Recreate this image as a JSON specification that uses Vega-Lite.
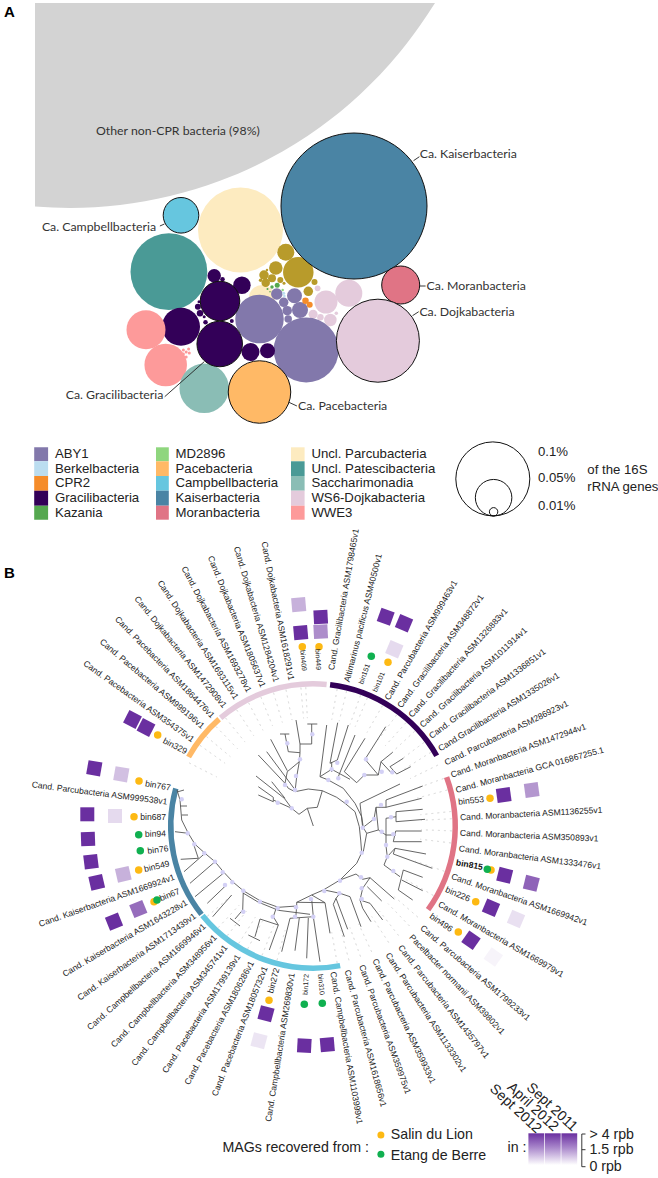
{"$schema":"https://vega.github.io/schema/vega-lite/v6.json","width":658,"height":1178,"padding":0,"autosize":{"type":"none"},"background":"white",
"config":{"view":{"stroke":null},"legend":{"disable":true},"axis":{"disable":true},"style":{"text":{"font":"Liberation Sans"}}},
"datasets":{
"other":[{"x":35,"y":206.6,"y2":3},{"x":70,"y":208,"y2":3},{"x":120,"y":205.1,"y2":3},{"x":170,"y":196.1,"y2":3},{"x":220,"y":180.8,"y2":3},{"x":270,"y":158.3,"y2":3},{"x":320,"y":127.2,"y2":3},{"x":360,"y":94.4,"y2":3},{"x":400,"y":52,"y2":3},{"x":420,"y":25.6,"y2":3},{"x":435,"y":3,"y2":3}],
"circles":[
{"g":"Uncl. Parcubacteria","x":240.5,"y":230,"d":85},{"g":"Uncl. Parcubacteria","x":262,"y":298,"d":26},
{"g":"Uncl. Patescibacteria","x":168.9,"y":271.7,"d":76.8},{"g":"WS6-Dojkabacteria","x":348.8,"y":293.3,"d":27},{"g":"WS6-Dojkabacteria","x":326,"y":302,"d":23},{"g":"WS6-Dojkabacteria","x":330.4,"y":320,"d":12.5},{"g":"WS6-Dojkabacteria","x":313.1,"y":314.3,"d":9},{"g":"WS6-Dojkabacteria","x":320.4,"y":317.3,"d":6.5},{"g":"WS6-Dojkabacteria","x":317.6,"y":288.3,"d":5.7},{"g":"WS6-Dojkabacteria","x":336.3,"y":313.3,"d":3.5},
{"g":"ABY1","x":306.2,"y":350,"d":65},{"g":"ABY1","x":259.5,"y":319,"d":48.5},{"g":"ABY1","x":300,"y":310,"d":16},{"g":"ABY1","x":294.5,"y":295.7,"d":15},{"g":"ABY1","x":276.8,"y":294,"d":11.5},{"g":"ABY1","x":283.7,"y":302.3,"d":9.5},{"g":"ABY1","x":287.2,"y":310.7,"d":9.5},{"g":"ABY1","x":288.2,"y":319,"d":7.5},
{"g":"Gold","x":298.3,"y":272.3,"d":30.5},{"g":"Gold","x":285.8,"y":252.3,"d":17},{"g":"Gold","x":275.8,"y":268,"d":13.5},{"g":"Gold","x":264,"y":275,"d":9.5},{"g":"Gold","x":272,"y":278.3,"d":8},{"g":"Gold","x":265.7,"y":282.7,"d":8.5},{"g":"Gold","x":280.3,"y":280,"d":6},{"g":"Gold","x":308.3,"y":291.3,"d":9.5},{"g":"Gold","x":314.5,"y":282,"d":6},{"g":"Gold","x":260.6,"y":280.3,"d":3.5},{"g":"Gold","x":267,"y":270,"d":2.5},{"g":"Gold","x":284,"y":283.3,"d":3},
{"g":"Kazania","x":277.2,"y":285.3,"d":5},{"g":"Kazania","x":272,"y":287,"d":3.5},{"g":"Kazania","x":267.5,"y":289,"d":2},{"g":"Kazania","x":270,"y":291.7,"d":1.5},{"g":"MD2896","x":282.7,"y":290,"d":2.5},{"g":"Berkelbacteria","x":283.7,"y":293.3,"d":3},{"g":"Berkelbacteria","x":284.4,"y":296,"d":2.5},
{"g":"CPR2","x":305.5,"y":300.7,"d":6.5},{"g":"CPR2","x":309.7,"y":304.7,"d":6},
{"g":"Gracilibacteria","x":181,"y":326.7,"d":38},{"g":"Gracilibacteria","x":214.2,"y":275.7,"d":13.5},{"g":"Gracilibacteria","x":241.9,"y":285.3,"d":17.5},{"g":"Gracilibacteria","x":250.5,"y":352,"d":18},{"g":"Gracilibacteria","x":267.5,"y":350.7,"d":15},{"g":"Gracilibacteria","x":222.5,"y":279.3,"d":4.5},{"g":"Gracilibacteria","x":197.9,"y":306.7,"d":6},{"g":"Gracilibacteria","x":200,"y":313.3,"d":6.5},{"g":"Gracilibacteria","x":205.5,"y":322.3,"d":4.5},{"g":"Gracilibacteria","x":231.8,"y":321,"d":4},{"g":"Gracilibacteria","x":199,"y":301.7,"d":3},{"g":"Gracilibacteria","x":204.2,"y":316.7,"d":3},
{"g":"WWE3","x":146,"y":329.7,"d":39},{"g":"WWE3","x":165.7,"y":365,"d":42.5},{"g":"WWE3","x":183.4,"y":350,"d":3},{"g":"WWE3","x":188.6,"y":349,"d":3},{"g":"WWE3","x":183.4,"y":354,"d":3},{"g":"WWE3","x":189.3,"y":353,"d":3},{"g":"WWE3","x":186.2,"y":357,"d":3},{"g":"WWE3","x":186.2,"y":352,"d":3},
{"g":"Saccharimonadia","x":204.2,"y":388.3,"d":49.5},
{"g":"Kaiserbacteria","x":354,"y":206,"d":146,"named":true},{"g":"Campbellbacteria","x":181,"y":215.3,"d":35.6,"named":true},{"g":"Moranbacteria","x":400.7,"y":285,"d":38,"named":true},{"g":"WS6-Dojkabacteria","x":377.9,"y":340.7,"d":83,"named":true},{"g":"Gracilibacteria","x":220,"y":301,"d":39.5,"named":true},{"g":"Gracilibacteria","x":219.7,"y":344,"d":45.5,"named":true},{"g":"Pacebacteria","x":259.5,"y":392,"d":62.5,"named":true}],
"connectors":[{"x":413.5,"y":160.7,"x2":419.4,"y2":156.7},{"x":159.9,"y":226,"x2":164.4,"y2":224},{"x":419.7,"y":286,"x2":425.6,"y2":286},{"x":412.5,"y":315.7,"x2":418.7,"y2":311.7},{"x":164.7,"y":396.7,"x2":204.2,"y2":361.7},{"x":288.9,"y":402.3,"x2":296.9,"y2":406},
{"x":581.8,"y":1134,"x2":581.8,"y2":1166.7},{"x":581.8,"y":1134,"x2":585.5,"y2":1134},{"x":581.8,"y":1149.7,"x2":585.5,"y2":1149.7},{"x":581.8,"y":1166.7,"x2":585.5,"y2":1166.7}],
"legend":[{"g":"ABY1","x":34.2,"x2":48.1,"y":447.3,"y2":461.3},{"g":"Berkelbacteria","x":34.2,"x2":48.1,"y":461.3,"y2":476},{"g":"CPR2","x":34.2,"x2":48.1,"y":476,"y2":490.7},{"g":"Gracilibacteria","x":34.2,"x2":48.1,"y":490.7,"y2":505.7},{"g":"Kazania","x":34.2,"x2":48.1,"y":505.7,"y2":519.7},
{"g":"MD2896","x":156,"x2":168.8,"y":447.3,"y2":461.3},{"g":"Pacebacteria","x":156,"x2":168.8,"y":461.3,"y2":476},{"g":"Campbellbacteria","x":156,"x2":168.8,"y":476,"y2":490.7},{"g":"Kaiserbacteria","x":156,"x2":168.8,"y":490.7,"y2":505.7},{"g":"Moranbacteria","x":156,"x2":168.8,"y":505.7,"y2":519.7},
{"g":"Uncl. Parcubacteria","x":291,"x2":304.6,"y":447.3,"y2":461.3},{"g":"Uncl. Patescibacteria","x":291,"x2":304.6,"y":461.3,"y2":476},{"g":"Saccharimonadia","x":291,"x2":304.6,"y":476,"y2":490.7},{"g":"WS6-Dojkabacteria","x":291,"x2":304.6,"y":490.7,"y2":505.7},{"g":"WWE3","x":291,"x2":304.6,"y":505.7,"y2":519.7}],
"sizeLegend":[{"x":492.8,"y":478.9,"d":74},{"x":493.6,"y":497.7,"d":36.5},{"x":493.6,"y":511.8,"d":8.4}],
"rings":[{"g":"Gracilibacteria","x":313,"y":826,"t":6.9,"t2":60.4},{"g":"Moranbacteria","x":313,"y":826,"t":69.9,"t2":126},{"g":"Campbellbacteria","x":313,"y":826,"t":169,"t2":231},{"g":"Kaiserbacteria","x":313,"y":826,"t":231.6,"t2":285.3},{"g":"Pacebacteria","x":313,"y":826,"t":299,"t2":318.7},{"g":"WS6-Dojkabacteria","x":313,"y":826,"t":319.5,"t2":365.5}],
"leaves":[{"x":313,"y":826,"t":10,"t2":10.01},{"x":313,"y":826,"t":14,"t2":14.01},{"x":313,"y":826,"t":20,"t2":20.01},{"x":313,"y":826,"t":23,"t2":23.01},{"x":313,"y":826,"t":30,"t2":30.01},{"x":313,"y":826,"t":37,"t2":37.01},{"x":313,"y":826,"t":42,"t2":42.01},{"x":313,"y":826,"t":47,"t2":47.01},{"x":313,"y":826,"t":53,"t2":53.01},{"x":313,"y":826,"t":58,"t2":58.01},{"x":313,"y":826,"t":64,"t2":64.01},{"x":313,"y":826,"t":70,"t2":70.01},{"x":313,"y":826,"t":75,"t2":75.01},{"x":313,"y":826,"t":84,"t2":84.01},{"x":313,"y":826,"t":87,"t2":87.01},{"x":313,"y":826,"t":92,"t2":92.01},{"x":313,"y":826,"t":97,"t2":97.01},{"x":313,"y":826,"t":109,"t2":109.01},{"x":313,"y":826,"t":120,"t2":120.01},{"x":313,"y":826,"t":131,"t2":131.01},{"x":313,"y":826,"t":136,"t2":136.01},{"x":313,"y":826,"t":142,"t2":142.01},{"x":313,"y":826,"t":147,"t2":147.01},{"x":313,"y":826,"t":155,"t2":155.01},{"x":313,"y":826,"t":160,"t2":160.01},{"x":313,"y":826,"t":165,"t2":165.01},{"x":313,"y":826,"t":170,"t2":170.01},{"x":313,"y":826,"t":195,"t2":195.01},{"x":313,"y":826,"t":201.5,"t2":201.51},{"x":313,"y":826,"t":208,"t2":208.01},{"x":313,"y":826,"t":212.3,"t2":212.31},{"x":313,"y":826,"t":218,"t2":218.01},{"x":313,"y":826,"t":223,"t2":223.01},{"x":313,"y":826,"t":229.5,"t2":229.51},{"x":313,"y":826,"t":297,"t2":297.01},{"x":313,"y":826,"t":305.5,"t2":305.51},{"x":313,"y":826,"t":310,"t2":310.01},{"x":313,"y":826,"t":315.7,"t2":315.71},{"x":313,"y":826,"t":321,"t2":321.01},{"x":313,"y":826,"t":326.7,"t2":326.71},{"x":313,"y":826,"t":332.4,"t2":332.41},{"x":313,"y":826,"t":338,"t2":338.01},{"x":313,"y":826,"t":343.5,"t2":343.51},{"x":313,"y":826,"t":348.8,"t2":348.81},{"x":313,"y":826,"t":355,"t2":355.01},{"x":313,"y":826,"t":357,"t2":357.01}],
"tree":[
{"x":256,"y":776,"x2":284.3,"y2":798.3},{"x":258.3,"y":786.7,"x2":273.3,"y2":797.3},{"x":258.3,"y":795,"x2":273.3,"y2":801.7},{"x":273.3,"y":797.3,"x2":273.3,"y2":801.7},{"x":273.3,"y":800,"x2":291.7,"y2":808.3},{"x":271.7,"y":781.7,"x2":285,"y2":798.3},{"x":284.3,"y":798.3,"x2":291.7,"y2":808.3},{"x":258.3,"y":755,"x2":285,"y2":783.3},{"x":266.7,"y":751.7,"x2":294,"y2":788.3},{"x":270.7,"y":739.3,"x2":287.3,"y2":770.7},{"x":280,"y":734,"x2":289.3,"y2":734},{"x":285,"y":734,"x2":288.3,"y2":751.7},{"x":288.3,"y":751.7,"x2":300,"y2":752.7},{"x":296,"y":720,"x2":300,"y2":744},{"x":300,"y":744,"x2":311.7,"y2":744},{"x":307.3,"y":724,"x2":317.3,"y2":724},{"x":311.7,"y":724,"x2":311.7,"y2":744},{"x":300,"y":744,"x2":300,"y2":752.7},{"x":300,"y":752.7,"x2":299.3,"y2":761.7},{"x":287.3,"y":771.7,"x2":299.3,"y2":761.7},{"x":285,"y":783.3,"x2":287.3,"y2":771.7},{"x":299.3,"y":761.7,"x2":296.7,"y2":776.7},{"x":296.7,"y":776.7,"x2":295,"y2":791.7},{"x":295,"y":791.7,"x2":288.3,"y2":788.3},{"x":285,"y":783.3,"x2":288.3,"y2":788.3},
{"x":326.7,"y":725,"x2":320,"y2":776.7},{"x":337.7,"y":722.7,"x2":330,"y2":763.3},{"x":348.3,"y":725,"x2":337.3,"y2":760},{"x":355,"y":735,"x2":338.3,"y2":776.7},{"x":365,"y":738.3,"x2":344.3,"y2":771.7},{"x":330,"y":763.3,"x2":337.3,"y2":760},{"x":331.7,"y":762,"x2":331.7,"y2":772},{"x":331.7,"y":769.3,"x2":350,"y2":779.3},{"x":328.3,"y":780,"x2":320,"y2":776.7},{"x":320,"y":776.7,"x2":331.7,"y2":769.3},{"x":344.3,"y":771.7,"x2":356.7,"y2":782.7},{"x":356.7,"y":782.7,"x2":364.3,"y2":775},{"x":385.7,"y":726.7,"x2":365,"y2":759.3},{"x":365,"y":759.3,"x2":378.3,"y2":775},{"x":392.7,"y":752.3,"x2":381,"y2":761.7},{"x":381,"y":761.7,"x2":391.7,"y2":773.3},{"x":403.3,"y":758.3,"x2":390,"y2":766.7},{"x":410.7,"y":766.7,"x2":396.7,"y2":774},{"x":390,"y":766.7,"x2":396.7,"y2":774},{"x":364.3,"y":775,"x2":378.3,"y2":775},{"x":378.3,"y":775,"x2":381,"y2":761.7},
{"x":295,"y":791.7,"x2":308.3,"y2":789},{"x":308.3,"y":789,"x2":322.3,"y2":790.7},{"x":322.3,"y":790.7,"x2":336.7,"y2":797.3},{"x":336.7,"y":797.3,"x2":345,"y2":803.3},
{"x":328.3,"y":780,"x2":343.3,"y2":788.3},{"x":343.3,"y":788.3,"x2":355,"y2":803.3},{"x":355,"y":803.3,"x2":361.7,"y2":816.7},{"x":361.7,"y":816.7,"x2":363.3,"y2":827.7},
{"x":345,"y":803.3,"x2":355,"y2":811.7},{"x":355,"y":811.7,"x2":359.3,"y2":826.7},{"x":359.3,"y":826.7,"x2":360.7,"y2":840},{"x":360.7,"y":840,"x2":361.7,"y2":852.7},
{"x":363.3,"y":827.7,"x2":366.7,"y2":833.3},{"x":366.7,"y":833.3,"x2":363.3,"y2":851.7},{"x":366.7,"y":833.3,"x2":378.3,"y2":830},
{"x":361.7,"y":852.7,"x2":356.7,"y2":863.3},{"x":356.7,"y":863.3,"x2":340,"y2":880},{"x":340,"y":880,"x2":323.3,"y2":890},{"x":323.3,"y":890,"x2":311.7,"y2":895},{"x":311.7,"y":895,"x2":296.7,"y2":902.3},
{"x":313.3,"y":826,"x2":307.3,"y2":808.3},{"x":299,"y":814.3,"x2":307.3,"y2":808.3},{"x":307.3,"y":808.3,"x2":317.3,"y2":807.3},{"x":317.3,"y":807.3,"x2":322.3,"y2":790.7},{"x":299,"y":814.3,"x2":291.7,"y2":808.3},
{"x":360,"y":803.3,"x2":400,"y2":784},{"x":362.7,"y":827.7,"x2":360,"y2":803.3},{"x":362.7,"y":827.7,"x2":374,"y2":819},{"x":374,"y":819,"x2":376,"y2":807.3},{"x":376,"y":807.3,"x2":386,"y2":807.3},{"x":386,"y":800,"x2":422.7,"y2":786},{"x":386,"y":807.3,"x2":421.7,"y2":798.3},{"x":386,"y":800,"x2":386,"y2":807.3},{"x":376,"y":807.3,"x2":378.3,"y2":830},{"x":378.3,"y":830,"x2":386,"y2":835},{"x":386,"y":818.3,"x2":396,"y2":816.7},{"x":396,"y":811.7,"x2":422.7,"y2":809.3},{"x":396,"y":821.7,"x2":425,"y2":819.3},{"x":396,"y":811.7,"x2":396,"y2":821.7},{"x":386,"y":818.3,"x2":386,"y2":835},{"x":386,"y":835,"x2":395.7,"y2":835},{"x":395.7,"y":831,"x2":421.7,"y2":831},{"x":393.3,"y":841.7,"x2":421.7,"y2":841.7},{"x":395.7,"y":831,"x2":393.3,"y2":841.7},{"x":386,"y":835,"x2":386,"y2":846},{"x":386,"y":846,"x2":387.3,"y2":856.7},{"x":387.3,"y":856.7,"x2":395,"y2":848.3},{"x":395,"y":848.3,"x2":426,"y2":854},{"x":393.3,"y":854,"x2":432.3,"y2":868.3},{"x":395,"y":848.3,"x2":393.3,"y2":854},{"x":387.3,"y":856.7,"x2":384,"y2":865},{"x":384,"y":865,"x2":400,"y2":876.7},{"x":403.3,"y":870,"x2":422.7,"y2":877.3},{"x":398.3,"y":890,"x2":412.7,"y2":900},{"x":401.7,"y":880,"x2":422.7,"y2":890.7},{"x":403.3,"y":870,"x2":398.3,"y2":890},
{"x":340,"y":880,"x2":356,"y2":874},{"x":356,"y":874,"x2":362.7,"y2":879.3},{"x":362.7,"y":879.3,"x2":370,"y2":877.7},{"x":370,"y":877.7,"x2":394.3,"y2":899},{"x":370,"y":877.7,"x2":362.7,"y2":888.3},{"x":367.3,"y":886.7,"x2":381.7,"y2":901},{"x":362.7,"y":888.3,"x2":360,"y2":900},{"x":370,"y":903.3,"x2":382.7,"y2":920},{"x":362.7,"y":908.3,"x2":371,"y2":921.7},{"x":360,"y":900,"x2":370,"y2":903.3},{"x":360,"y":900,"x2":362.7,"y2":908.3},
{"x":350,"y":896.7,"x2":361,"y2":926.7},{"x":336,"y":898.3,"x2":347.7,"y2":929.3},{"x":333.3,"y":904.3,"x2":344.3,"y2":936.7},{"x":336,"y":898.3,"x2":333.3,"y2":904.3},{"x":324.3,"y":890,"x2":340,"y2":893.3},{"x":340,"y":893.3,"x2":350,"y2":896.7},{"x":340,"y":893.3,"x2":336,"y2":898.3},{"x":311.7,"y":895,"x2":325,"y2":902.7},{"x":325,"y":902.7,"x2":330,"y2":933.3},{"x":296.7,"y":902.3,"x2":325,"y2":902.7},{"x":296.7,"y":902.3,"x2":296.7,"y2":906},
{"x":296.7,"y":906,"x2":295.7,"y2":918},{"x":290,"y":918.3,"x2":313.3,"y2":916.7},{"x":313.3,"y":916.7,"x2":320,"y2":961.7},{"x":308.3,"y":918,"x2":306.7,"y2":958.3},{"x":290,"y":918.3,"x2":281.7,"y2":951.7},{"x":299.3,"y":918,"x2":295,"y2":950.7},{"x":313.3,"y":916.7,"x2":311.7,"y2":899.3},
{"x":296.7,"y":906,"x2":278.3,"y2":907.3},{"x":278.3,"y":907.3,"x2":260,"y2":900.7},{"x":260,"y":900.7,"x2":243.3,"y2":890.7},{"x":243.3,"y":890.7,"x2":233.3,"y2":882.3},{"x":233.3,"y":882.3,"x2":223.3,"y2":871.7},{"x":223.3,"y":871.7,"x2":215,"y2":861.7},{"x":215,"y":861.7,"x2":205,"y2":853.3},{"x":205,"y":853.3,"x2":195,"y2":844.3},{"x":195,"y":844.3,"x2":188.3,"y2":833.3},{"x":188.3,"y":833.3,"x2":181.7,"y2":820},{"x":181.7,"y":820,"x2":180,"y2":800},{"x":180,"y":800,"x2":177,"y2":790},{"x":177,"y":792,"x2":184,"y2":790},{"x":180,"y":806,"x2":187,"y2":806},{"x":181.7,"y":815,"x2":188,"y2":815},
{"x":310,"y":914.3,"x2":278.3,"y2":910.3},{"x":278.3,"y":910.3,"x2":258,"y2":902},{"x":258,"y":902,"x2":243,"y2":893},
{"x":273.3,"y":916.7,"x2":278.3,"y2":925},{"x":278.3,"y":925,"x2":269.3,"y2":950},{"x":260,"y":919,"x2":278.3,"y2":925},{"x":260,"y":919,"x2":255,"y2":936.7},{"x":248.3,"y":935,"x2":260,"y2":940.7},{"x":273.3,"y":916.7,"x2":276.7,"y2":906.7},{"x":242.7,"y":910,"x2":235,"y2":919},{"x":230,"y":918.3,"x2":240,"y2":926},{"x":243.3,"y":890.7,"x2":242.7,"y2":910},{"x":231.7,"y":895,"x2":212.7,"y2":916.7},{"x":225.7,"y":885.7,"x2":207.3,"y2":903.3},{"x":223.3,"y":873.3,"x2":195,"y2":896.7},{"x":215,"y":861.7,"x2":190,"y2":883.3},{"x":205,"y":853.3,"x2":184,"y2":871.7},{"x":193.3,"y":843.3,"x2":198.3,"y2":858.3},{"x":198.3,"y":858.3,"x2":180.7,"y2":859.3},{"x":188.3,"y":833.3,"x2":175,"y2":831.7}],
"nodes":[{"x":312.3,"y":734.3},{"x":287.3,"y":743.3},{"x":300,"y":759.3},{"x":296,"y":776},{"x":285,"y":785},{"x":295,"y":790},{"x":277.7,"y":802.7},{"x":291.7,"y":808.3},{"x":346.7,"y":801.7},{"x":328.3,"y":780},{"x":331.7,"y":769.3},{"x":337.3,"y":762.7},{"x":338.3,"y":778.3},{"x":364.3,"y":775},{"x":366,"y":759.3},{"x":381.7,"y":771.7},{"x":392.3,"y":772.3},{"x":362.7,"y":827.7},{"x":374,"y":819},{"x":381.7,"y":831.7},{"x":381,"y":805},{"x":391,"y":817.3},{"x":393.3,"y":834.3},{"x":386,"y":845},{"x":387.3,"y":856.7},{"x":393.3,"y":871},{"x":361.7,"y":852.7},{"x":340,"y":880.7},{"x":361,"y":877.3},{"x":361.7,"y":888.3},{"x":361.7,"y":899},{"x":339.3,"y":893.3},{"x":324.3,"y":891},{"x":311,"y":899},{"x":296,"y":907.3},{"x":313.3,"y":916.7},{"x":295,"y":916.7},{"x":277.7,"y":908.3},{"x":272.7,"y":916.7},{"x":260,"y":901.7},{"x":243.3,"y":911.7},{"x":243.3,"y":890.7},{"x":232.3,"y":882.3},{"x":225,"y":885},{"x":222.7,"y":872.3},{"x":215,"y":861.7},{"x":204.3,"y":853.3},{"x":194.3,"y":844.3},{"x":187.7,"y":833.3},{"x":181.7,"y":799.3}],
"squares":[{"x":132.5,"y":719.5,"rot":27,"rpb":4,"d":14},{"x":146,"y":727.5,"rot":27,"rpb":4,"d":14},{"x":94.3,"y":768.3,"rot":10,"rpb":4,"d":14},{"x":121.3,"y":774.3,"rot":10,"rpb":1.2,"d":14},{"x":87.3,"y":814.3,"rot":0,"rpb":4,"d":14},{"x":115,"y":816,"rot":0,"rpb":0.7,"d":14},{"x":88,"y":839,"rot":-2,"rpb":4,"d":14},{"x":91,"y":861.7,"rot":-7,"rpb":4,"d":14},{"x":96.7,"y":882.3,"rot":-13,"rpb":4,"d":14},{"x":123.3,"y":874.3,"rot":-13,"rpb":1.5,"d":14},{"x":114,"y":921.7,"rot":-22,"rpb":4,"d":14},{"x":138.3,"y":909,"rot":-22,"rpb":2.8,"d":14},{"x":266,"y":1013.7,"rot":-75,"rpb":4,"d":14},{"x":259,"y":1040.7,"rot":-75,"rpb":0.5,"d":14},{"x":304.3,"y":1045.7,"rot":-87,"rpb":4,"d":14},{"x":327.3,"y":1044.7,"rot":85,"rpb":4,"d":14},{"x":471,"y":940.3,"rot":35,"rpb":4,"d":14},{"x":493.3,"y":957,"rot":35,"rpb":0.2,"d":14},{"x":491,"y":907.7,"rot":23,"rpb":4,"d":14},{"x":516,"y":919,"rot":23,"rpb":0.6,"d":14},{"x":504.7,"y":875.3,"rot":14,"rpb":4,"d":14},{"x":531.3,"y":883.3,"rot":14,"rpb":3,"d":14},{"x":503.7,"y":795,"rot":-8,"rpb":4,"d":14},{"x":531.7,"y":790,"rot":-8,"rpb":2,"d":14},{"x":404,"y":623.3,"rot":-67,"rpb":4,"d":14},{"x":394.3,"y":649.3,"rot":-67,"rpb":0.7,"d":14},{"x":385.7,"y":616.7,"rot":-70,"rpb":4,"d":14},{"x":300.7,"y":632.7,"rot":85,"rpb":4,"d":14},{"x":298.7,"y":604.7,"rot":85,"rpb":1.5,"d":14},{"x":320.7,"y":631.7,"rot":87,"rpb":2.2,"d":14},{"x":320.7,"y":617,"rot":87,"rpb":4,"d":14}],
"dots":[{"g":"Salin du Lion","x":157.7,"y":735,"d":7.5},{"g":"Salin du Lion","x":139,"y":781,"d":7.5},{"g":"Salin du Lion","x":134,"y":816.7,"d":7.5},{"g":"Etang de Berre","x":138.7,"y":834.7,"d":7.5},{"g":"Etang de Berre","x":140.3,"y":850.7,"d":7.5},{"g":"Salin du Lion","x":138.7,"y":870,"d":7.5},{"g":"Salin du Lion","x":154,"y":901.7,"d":7.5},{"g":"Etang de Berre","x":157,"y":900,"d":7.5},{"g":"Salin du Lion","x":269,"y":1000.3,"d":7.5},{"g":"Etang de Berre","x":304.3,"y":1004.3,"d":7.5},{"g":"Etang de Berre","x":322.3,"y":1003.3,"d":7.5},{"g":"Salin du Lion","x":458.3,"y":932,"d":7.5},{"g":"Salin du Lion","x":475.7,"y":901.7,"d":7.5},{"g":"Salin du Lion","x":491,"y":870,"d":7.5},{"g":"Etang de Berre","x":487.3,"y":869.3,"d":7.5},{"g":"Salin du Lion","x":490,"y":798.3,"d":7.5},{"g":"Salin du Lion","x":388,"y":662.3,"d":7.5},{"g":"Etang de Berre","x":371.3,"y":656.3,"d":7.5},{"g":"Salin du Lion","x":302.3,"y":646.7,"d":7.5},{"g":"Salin du Lion","x":319,"y":646.7,"d":7.5},{"g":"Salin du Lion","x":380.9,"y":1135,"d":7},{"g":"Etang de Berre","x":380.9,"y":1154.3,"d":7}],
"treeLabels":[
{"side":"L","t":"Cand. Gracilibacteria ASM1798465v1","x":331,"y":670,"rot":-80},{"side":"L","t":"Altimarinus pacificus ASM40500v1","x":346.7,"y":681.7,"rot":-75.8},{"side":"LV","t":"bin151","x":361,"y":684,"rot":-70},{"side":"LV","t":"bin101","x":375,"y":691.7,"rot":-67},{"side":"L","t":"Cand. Parcubacteria ASM999463v1","x":386.7,"y":699.3,"rot":-60},{"side":"L","t":"Cand. Gracilibacteria ASM348872v1","x":399,"y":706.7,"rot":-53.4},{"side":"L","t":"Cand. Gracilibacteria ASM1326883v1","x":410,"y":716,"rot":-48},{"side":"L","t":"Cand. Gracilibacteria ASM1011914v1","x":421,"y":725.7,"rot":-42.8},{"side":"L","t":"Cand. Gracilibacteria ASM1336851v1","x":430,"y":736.7,"rot":-37},{"side":"L","t":"Cand.Gracilibacteria ASM1335026v1","x":439,"y":749,"rot":-32},{"side":"L","t":"Cand. Parcubacteria ASM286923v1","x":445,"y":762.7,"rot":-26},{"side":"L","t":"Cand. Moranbacteria ASM1472944v1","x":451,"y":775,"rot":-20},{"side":"L","t":"Cand. Moranbacteria GCA 016867255.1","x":455.7,"y":790,"rot":-15.3},{"side":"L","t":"bin553","x":458.3,"y":801.7,"rot":-6},{"side":"L","t":"Cand. Moranbacteria ASM1136255v1","x":460,"y":817.3,"rot":-3},{"side":"L","t":"Cand. Moranbacteria ASM350893v1","x":460,"y":832.7,"rot":2.4},{"side":"L","t":"Cand. Moranbacteria ASM1333476v1","x":459,"y":848.3,"rot":7.2},{"side":"B","t":"bin815","x":456,"y":862.3,"rot":10},{"side":"L","t":"Cand. Moranbacteria ASM1669942v1","x":451.7,"y":876,"rot":19},{"side":"L","t":"bin226","x":446,"y":889,"rot":23},{"side":"L","t":"Cand. Moranbacteria ASM1669979v1","x":439,"y":903.3,"rot":30},{"side":"L","t":"bin496","x":430.7,"y":915,"rot":35},{"side":"L","t":"Cand. Parcubacteria ASM1799233v1","x":421.7,"y":926.7,"rot":40.6},{"side":"L","t":"Pacelbacter normanii ASM39802v1","x":411,"y":935.7,"rot":46.4},{"side":"L","t":"Cand. Parcubacteria ASM1435797v1","x":400,"y":946,"rot":51.8},{"side":"L","t":"Cand. Parcubacteria ASM1133302v1","x":387.7,"y":953.3,"rot":56.9},{"side":"L","t":"Cand. Parcubacteria ASM359933v1","x":375,"y":959.3,"rot":64.7},{"side":"L","t":"Cand. Parcubacteria ASM359975v1","x":361.7,"y":965,"rot":70},{"side":"L","t":"Cand. Parcubacteria ASM1618656v1","x":347.3,"y":970,"rot":75},{"side":"L","t":"Cand. Campbellbacteria ASM1103999v1","x":333.3,"y":971.7,"rot":80},{"side":"LV","t":"bin310","x":320,"y":974,"rot":85},
{"side":"RV","t":"bin172","x":306.7,"y":974,"rot":-87},{"side":"R","t":"Cand. Campbellbacteria ASM269830v1","x":291.7,"y":973,"rot":-81},{"side":"R","t":"bin272","x":276.7,"y":968,"rot":-75},{"side":"R","t":"Cand. Pacebacteria ASM1805732v1","x":265,"y":966.7,"rot":-68.5},{"side":"R","t":"Cand. Pacebacteria ASM1806286v1","x":251.7,"y":961.7,"rot":-62},{"side":"R","t":"Cand. Pacebacteria ASM1799139v1","x":238.3,"y":955,"rot":-57.7},{"side":"R","t":"Cand. Campbellbacteria ASM345741v1","x":225.7,"y":946,"rot":-52},{"side":"R","t":"Cand. Campbellbacteria ASM348956v1","x":215,"y":936,"rot":-47},{"side":"R","t":"Cand. Campbellbacteria ASM1669946v1","x":204.3,"y":925,"rot":-41.7},{"side":"R","t":"Cand. Kaiserbacteria ASM1713439v1","x":195,"y":915,"rot":-35.5},{"side":"R","t":"Cand. Kaiserbacteria ASM1643228v1","x":186.7,"y":901.7,"rot":-30.5},{"side":"R","t":"bin67","x":179.3,"y":890.7,"rot":-22},{"side":"R","t":"Cand. Kaiserbacteria ASM1669924v1","x":174.3,"y":876.7,"rot":-19.3},{"side":"R","t":"bin549","x":169.3,"y":863.3,"rot":-13},{"side":"R","t":"bin76","x":168.3,"y":848.3,"rot":-7},{"side":"R","t":"bin94","x":166,"y":833.3,"rot":-2},{"side":"R","t":"bin687","x":166,"y":816.7,"rot":0},{"side":"R","t":"Cand. Parcubacteria ASM999538v1","x":167.3,"y":801.7,"rot":7.3},{"side":"R","t":"bin767","x":170.7,"y":787.7,"rot":10},{"side":"R","t":"bin329","x":186.7,"y":751.7,"rot":27},{"side":"R","t":"Cand. Pacebacteria ASM354375v1","x":193.3,"y":740,"rot":35.5},{"side":"R","t":"Cand. Pacebacteria ASM999196v1","x":203.3,"y":726.7,"rot":40.2},{"side":"R","t":"Cand. Pacebacteria ASM1864476v1","x":213.3,"y":716.7,"rot":45.7},{"side":"R","t":"Cand. Dojkabacteria ASM1472908v1","x":225,"y":706.7,"rot":51},{"side":"R","t":"Cand. Dojkabacteria ASM1693115v1","x":236.7,"y":698.3,"rot":56.7},{"side":"R","t":"Cand. Dojkabacteria ASM1693278v1","x":249.3,"y":691.7,"rot":62.4},{"side":"R","t":"Cand. Dojkabacteria ASM1805637v1","x":263.3,"y":686.7,"rot":68},{"side":"R","t":"Cand. Dojkabacteria ASM1284204v1","x":276.7,"y":681.7,"rot":73.5},{"side":"R","t":"Cand. Dojkabacteria ASM1618291v1","x":291.7,"y":680,"rot":78.8},{"side":"RV","t":"bin409","x":304,"y":671,"rot":85},{"side":"RV","t":"bin449","x":318.3,"y":670,"rot":87}],
"panelA":[{"t":"Other non-CPR bacteria (98%)","x":96,"y":130.7},{"t":"Ca. Kaiserbacteria","x":419.7,"y":154.3},{"t":"Ca. Campbellbacteria","x":41.9,"y":226.7},{"t":"Ca. Moranbacteria","x":426.6,"y":286},{"t":"Ca. Dojkabacteria","x":419.4,"y":311.7},{"t":"Ca. Gracilibacteria","x":65.7,"y":394.7},{"t":"Ca. Pacebacteria","x":298,"y":406}],
"legendText":[{"t":"ABY1","x":54.9,"y":454},{"t":"Berkelbacteria","x":54.9,"y":468.7},{"t":"CPR2","x":54.9,"y":483.3},{"t":"Gracilibacteria","x":54.9,"y":498.3},{"t":"Kazania","x":54.9,"y":513},{"t":"MD2896","x":175.5,"y":454},{"t":"Pacebacteria","x":175.5,"y":468.7},{"t":"Campbellbacteria","x":175.5,"y":483.3},{"t":"Kaiserbacteria","x":175.5,"y":498.3},{"t":"Moranbacteria","x":175.5,"y":513},{"t":"Uncl. Parcubacteria","x":311.4,"y":454},{"t":"Uncl. Patescibacteria","x":311.4,"y":468.7},{"t":"Saccharimonadia","x":311.4,"y":483.3},{"t":"WS6-Dojkabacteria","x":311.4,"y":498.3},{"t":"WWE3","x":311.4,"y":513},{"t":"0.1%","x":538,"y":451.7},{"t":"0.05%","x":538,"y":478.3},{"t":"0.01%","x":538,"y":506},{"t":"of the 16S","x":587.3,"y":470.3},{"t":"rRNA genes","x":587.3,"y":486.7}],
"keyText":[{"t":"MAGs recovered from :","x":222.4,"y":1148.3},{"t":"Salin du Lion","x":390.8,"y":1134.7},{"t":"Etang de Berre","x":390.8,"y":1156},{"t":"in :","x":507.6,"y":1148.3},{"t":"> 4 rpb","x":589.4,"y":1134.7},{"t":"1.5 rpb","x":589.4,"y":1150},{"t":"0 rpb","x":589.4,"y":1167.3}],
"dates":[{"t":"Sept 2012","x":539,"y":1131,"rot":43},{"t":"April 2012","x":556,"y":1129,"rot":43},{"t":"Sept 2011","x":575,"y":1129,"rot":43}],
"panelLetters":[{"t":"A","x":9.5,"y":12},{"t":"B","x":9.5,"y":573}],
"grad":[{"x":528.4,"x2":544.2,"y":1133.3,"y2":1165},{"x":544.9,"x2":560.7,"y":1133.3,"y2":1165},{"x":561.4,"x2":577.2,"y":1133.3,"y2":1165}]
},
"encoding":{"x":{"field":"x","type":"quantitative","scale":{"domain":[0,658],"nice":false,"zero":false}},"y":{"field":"y","type":"quantitative","scale":{"domain":[1178,0],"nice":false,"zero":false}}},
"layer":[
{"data":{"name":"other"},"mark":{"type":"area","color":"#D3D3D3","interpolate":"monotone"},"encoding":{"y2":{"field":"y2"}}},
{"data":{"name":"leaves"},"mark":{"type":"arc","innerRadius":108,"outerRadius":139,"fillOpacity":0,"stroke":"#DEDEDE","strokeWidth":0.8,"strokeDash":[2,4]},"encoding":{"theta":{"field":"t","type":"quantitative","scale":{"domain":[0,360],"range":[0,6.283185]}},"theta2":{"field":"t2"}}},
{"data":{"name":"rings"},"mark":{"type":"arc","innerRadius":139.5,"outerRadius":145},"encoding":{"theta":{"field":"t","type":"quantitative","scale":{"domain":[0,360],"range":[0,6.283185]}},"theta2":{"field":"t2"},"fill":{"field":"g","type":"nominal","scale":{"domain":["ABY1","Berkelbacteria","CPR2","Gracilibacteria","Kazania","MD2896","Pacebacteria","Campbellbacteria","Kaiserbacteria","Moranbacteria","Uncl. Parcubacteria","Uncl. Patescibacteria","Saccharimonadia","WS6-Dojkabacteria","WWE3","Gold","Salin du Lion","Etang de Berre"],"range":["#8278AB","#BBDDF0","#F58C2A","#330058","#55A84F","#8FD67E","#FFB966","#66C6DF","#4A84A4","#E07485","#FDEBC0","#4A9A96","#8ABDB5","#E4CBDC","#FD9A9A","#B89B2B","#FDB913","#10B050"]}}}},
{"data":{"name":"tree"},"mark":{"type":"rule","color":"#555555","strokeWidth":0.9},"encoding":{"x2":{"field":"x2"},"y2":{"field":"y2"}}},
{"data":{"name":"nodes"},"mark":{"type":"point","shape":"circle","filled":true,"fill":"#D3D0F5","opacity":1,"size":20}},
{"data":{"name":"circles"},"mark":{"type":"point","shape":"circle","filled":true,"opacity":1},"encoding":{"fill":{"field":"g","type":"nominal"},"size":{"field":"d","type":"quantitative","scale":{"type":"pow","exponent":2,"domain":[0,150],"range":[0,22500]}},"stroke":{"condition":{"test":"datum.named","value":"#111111"},"value":null},"strokeWidth":{"value":1}}},
{"data":{"name":"connectors"},"mark":{"type":"rule","color":"#222222","strokeWidth":0.9},"encoding":{"x2":{"field":"x2"},"y2":{"field":"y2"}}},
{"data":{"name":"legend"},"mark":{"type":"rect"},"encoding":{"x2":{"field":"x2"},"y2":{"field":"y2"},"fill":{"field":"g","type":"nominal"}}},
{"data":{"name":"sizeLegend"},"mark":{"type":"point","shape":"circle","filled":false,"stroke":"#111111","strokeWidth":1,"opacity":1},"encoding":{"size":{"field":"d","type":"quantitative","scale":{"type":"pow","exponent":2,"domain":[0,150],"range":[0,22500]}}}},
{"data":{"name":"squares"},"mark":{"type":"point","shape":"square","filled":true,"fill":"#6A2FA0"},"encoding":{"size":{"field":"d","type":"quantitative","scale":{"type":"pow","exponent":2,"domain":[0,150],"range":[0,22500]}},"angle":{"field":"rot","type":"quantitative","scale":null},"opacity":{"field":"rpb","type":"quantitative","scale":{"domain":[0,4],"range":[0,1]}}}},
{"data":{"name":"dots"},"mark":{"type":"point","shape":"circle","filled":true,"opacity":1},"encoding":{"fill":{"field":"g","type":"nominal"},"size":{"field":"d","type":"quantitative","scale":{"type":"pow","exponent":2,"domain":[0,150],"range":[0,22500]}}}},
{"data":{"name":"treeLabels"},"transform":[{"filter":"datum.side=='L'"}],"mark":{"type":"text","align":"left","baseline":"middle","fontSize":8.6,"font":"Liberation Sans","color":"#222222"},"encoding":{"text":{"field":"t"},"angle":{"field":"rot","type":"quantitative","scale":null}}},
{"data":{"name":"treeLabels"},"transform":[{"filter":"datum.side=='LV'"}],"mark":{"type":"text","align":"left","baseline":"middle","fontSize":7,"font":"Liberation Sans","color":"#222222"},"encoding":{"text":{"field":"t"},"angle":{"field":"rot","type":"quantitative","scale":null}}},
{"data":{"name":"treeLabels"},"transform":[{"filter":"datum.side=='B'"}],"mark":{"type":"text","align":"left","baseline":"middle","fontSize":8.6,"font":"Liberation Sans","fontWeight":"bold","color":"#111111"},"encoding":{"text":{"field":"t"},"angle":{"field":"rot","type":"quantitative","scale":null}}},
{"data":{"name":"treeLabels"},"transform":[{"filter":"datum.side=='R'"}],"mark":{"type":"text","align":"right","baseline":"middle","fontSize":8.6,"font":"Liberation Sans","color":"#222222"},"encoding":{"text":{"field":"t"},"angle":{"field":"rot","type":"quantitative","scale":null}}},
{"data":{"name":"treeLabels"},"transform":[{"filter":"datum.side=='RV'"}],"mark":{"type":"text","align":"right","baseline":"middle","fontSize":7,"font":"Liberation Sans","color":"#222222"},"encoding":{"text":{"field":"t"},"angle":{"field":"rot","type":"quantitative","scale":null}}},
{"data":{"name":"panelA"},"mark":{"type":"text","align":"left","baseline":"middle","fontSize":12.3,"font":"Lato","color":"#333333"},"encoding":{"text":{"field":"t"}}},
{"data":{"name":"legendText"},"mark":{"type":"text","align":"left","baseline":"middle","fontSize":13.2,"font":"Liberation Sans","color":"#222222"},"encoding":{"text":{"field":"t"}}},
{"data":{"name":"keyText"},"mark":{"type":"text","align":"left","baseline":"middle","fontSize":14.2,"font":"Liberation Sans","color":"#222222"},"encoding":{"text":{"field":"t"}}},
{"data":{"name":"dates"},"mark":{"type":"text","align":"right","baseline":"middle","fontSize":14.2,"font":"Liberation Sans","color":"#222222"},"encoding":{"text":{"field":"t"},"angle":{"field":"rot","type":"quantitative","scale":null}}},
{"data":{"name":"panelLetters"},"mark":{"type":"text","align":"center","baseline":"middle","fontSize":15,"fontWeight":"bold","font":"Liberation Sans","color":"#000000"},"encoding":{"text":{"field":"t"}}},
{"data":{"name":"grad"},"mark":{"type":"rect","fill":{"gradient":"linear","x1":0,"y1":0,"x2":0,"y2":1,"stops":[{"offset":0,"color":"#6A2FA0"},{"offset":0.45,"color":"#A987CB"},{"offset":1,"color":"#FFFFFF"}]}},"encoding":{"x2":{"field":"x2"},"y2":{"field":"y2"}}}
]}
